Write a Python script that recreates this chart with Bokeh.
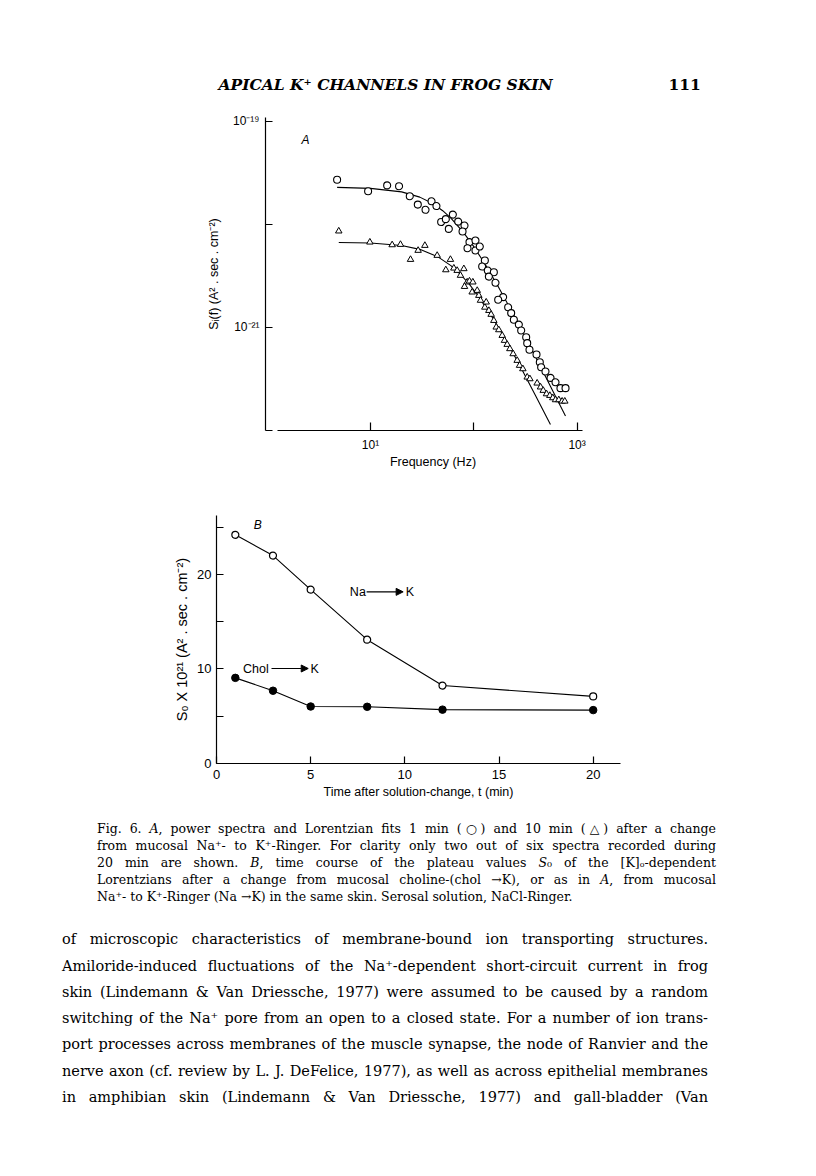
import html
from bokeh.plotting import figure
from bokeh.layouts import column
from bokeh.models import Range1d, FixedTicker, Arrow, NormalHead, Div
from bokeh.core.properties import value
from bokeh.embed import file_html
from bokeh.resources import INLINE

# ---------------- data: panel A (power spectra) ----------------
freq_1min = [4.75, 9.48, 14.5, 18.9, 24.0, 28.7, 34.1, 39.0, 43.5, 48.3, 53.6, 57.3, 62.7,
             70.6, 81.3, 77.8, 90.8, 103.8, 86.9, 103.8, 114.3, 127.9, 120.5, 136.7, 156.3,
             139.9, 162.2, 192.3, 172.2, 215.1, 230.0, 244.2, 272.9, 287.6, 321.4, 328.9,
             346.0, 404.6, 435.5, 448.7, 494.3, 553.4, 618.2, 690.2, 772.7]
spec_1min = [2.70e-20, 2.09e-20, 2.38e-20, 2.34e-20, 1.87e-20, 1.55e-20, 1.38e-20, 1.67e-20,
             1.50e-20, 1.05e-20, 1.12e-20, 9.0e-21, 1.24e-20, 1.06e-20, 9.7e-21, 8.5e-21,
             6.7e-21, 6.95e-21, 5.85e-21, 5.56e-21, 6.07e-21, 4.44e-21, 3.88e-21, 3.55e-21,
             3.42e-21, 3.10e-21, 2.70e-21, 1.96e-21, 1.85e-21, 1.56e-21, 1.37e-21, 1.18e-21,
             1.06e-21, 9.3e-22, 8.0e-22, 7.0e-22, 6.03e-22, 5.43e-22, 4.57e-22, 4.09e-22,
             3.72e-22, 3.22e-22, 2.92e-22, 2.56e-22, 2.56e-22]

freq_10min = [4.93, 9.86, 16.2, 19.5, 24.4, 28.9, 33.6, 44.2, 53.6, 59.4, 64.1, 69.0, 80.1,
              74.3, 86.3, 81.3, 90.8, 97.9, 96.4, 107.9, 111.9, 116.1, 127.9, 131.8, 139.9,
              147.2, 156.3, 164.8, 174.6, 188.4, 198.2, 210.4, 223.4, 240.4, 263.0, 277.3,
              298.5, 328.9, 349.1, 410.2, 442.6, 469.9, 505.8, 544.5, 582.1, 618.2, 665.3,
              716.1, 760.3]
spec_10min = [8.57e-21, 6.69e-21, 6.30e-21, 6.35e-21, 4.54e-21, 5.56e-21, 6.21e-21, 4.97e-21,
              3.60e-21, 4.54e-21, 3.74e-21, 3.55e-21, 3.69e-21, 3.18e-21, 2.74e-21, 2.48e-21,
              2.80e-21, 2.74e-21, 2.19e-21, 2.27e-21, 2.03e-21, 1.82e-21, 1.56e-21, 1.75e-21,
              1.45e-21, 1.33e-21, 1.16e-21, 1.00e-21, 9.42e-22, 8.30e-22, 7.43e-22, 6.79e-22,
              6.17e-22, 5.51e-22, 4.75e-22, 4.25e-22, 3.94e-22, 3.27e-22, 3.15e-22, 2.86e-22,
              2.62e-22, 2.43e-22, 2.25e-22, 2.17e-22, 2.06e-22, 1.97e-22, 1.97e-22, 1.91e-22,
              1.91e-22]

# Lorentzian fit curves
fit_freq_1min = [4.75, 10, 20, 30, 40, 50, 60, 80, 100, 130, 170, 230, 300, 400, 550, 772]
fit_spec_1min = [2.276e-20, 2.228e-20, 2.061e-20, 1.832e-20, 1.586e-20, 1.352e-20, 1.145e-20,
                 8.24e-21, 6.06e-21, 4.02e-21, 2.54e-21, 1.46e-21, 8.81e-22, 5.04e-22,
                 2.69e-22, 1.375e-22]
fit_freq_10min = [4.93, 10, 20, 30, 45, 60, 72.5, 90, 110, 140, 180, 230, 300, 400, 552]
fit_spec_10min = [6.65e-21, 6.56e-21, 6.21e-21, 5.70e-21, 4.82e-21, 3.96e-21, 3.34e-21,
                  2.63e-21, 2.02e-21, 1.41e-21, 9.32e-22, 6.04e-22, 3.69e-22, 2.12e-22,
                  1.133e-22]

freq_ticks = [10.0, 100.0, 1000.0]
freq_tick_labels = {10.0: "10¹", 100.0: "", 1000.0: "10³"}
spec_ticks = [1e-22, 1e-21, 1e-20, 1e-19]
spec_tick_labels = {1e-22: "", 1e-21: "10⁻²¹", 1e-20: "", 1e-19: "10⁻¹⁹"}

# ---------------- data: panel B (plateau values) ----------------
time_min = [1, 3, 5, 8, 12, 20]
s0_na_to_k = [24.2, 22.0, 18.4, 13.1, 8.25, 7.1]
s0_chol_to_k = [9.06, 7.7, 6.03, 6.0, 5.7, 5.65]
time_ticks = [0, 5, 10, 15, 20]
s0_ticks = [0, 5, 10, 15, 20, 25]
s0_tick_labels = {5: "", 15: "", 25: ""}

# ---------------- page texts ----------------
header_title = "APICAL K⁺ CHANNELS IN FROG SKIN"
page_number = "111"
caption_lines = [
    "Fig. 6. <i>A</i>, power spectra and Lorentzian fits 1 min (○) and 10 min (△) after a change",
    "from mucosal Na⁺- to K⁺-Ringer. For clarity only two out of six spectra recorded during",
    "20 min are shown. <i>B</i>, time course of the plateau values <i>S</i>₀ of the [K]ₒ-dependent",
    "Lorentzians after a change from mucosal choline-(chol →K), or as in <i>A</i>, from mucosal",
    "Na⁺- to K⁺-Ringer (Na →K) in the same skin. Serosal solution, NaCl-Ringer.",
]
body_lines = [
    "of microscopic characteristics of membrane-bound ion transporting structures.",
    "Amiloride-induced fluctuations of the Na⁺-dependent short-circuit current in frog",
    "skin (Lindemann & Van Driessche, 1977) were assumed to be caused by a random",
    "switching of the Na⁺ pore from an open to a closed state. For a number of ion trans-",
    "port processes across membranes of the muscle synapse, the node of Ranvier and the",
    "nerve axon (cf. review by L. J. DeFelice, 1977), as well as across epithelial membranes",
    "in amphibian skin (Lindemann & Van Driessche, 1977) and gall-bladder (Van",
]

W = 800
SANS = "Liberation Sans"
SERIF = "DejaVu Serif"


def canvas(top, bottom):
    p = figure(width=W, height=bottom - top, x_range=Range1d(0, W),
               y_range=Range1d(bottom, top), output_backend="svg",
               toolbar_location=None, x_axis_location=None, y_axis_location=None,
               min_border=0, frame_align=False)
    p.xgrid.grid_line_color = None
    p.ygrid.grid_line_color = None
    p.outline_line_color = None
    p.background_fill_color = "white"
    p.border_fill_color = "white"
    return p


def style_axis(ax, size="12px", title_size="12px"):
    ax.axis_line_color = "black"
    ax.axis_line_width = 1.2
    ax.major_tick_line_color = "black"
    ax.major_tick_line_width = 1.2
    ax.minor_tick_line_color = None
    ax.major_label_text_font = SANS
    ax.major_label_text_font_size = size
    ax.major_label_text_color = "black"
    ax.axis_label_text_font = SANS
    ax.axis_label_text_font_size = title_size
    ax.axis_label_text_font_style = "normal"
    ax.axis_label_text_color = "black"


# ---------------- header (page y 0..106) ----------------
ph = canvas(0, 106)
ph.text(x=[218], y=[84], text=[header_title], text_font=value(SERIF),
        text_font_style="bold italic", text_font_size="15.5px", text_baseline="middle",
        text_align="left", text_color="black")
ph.text(x=[668], y=[84], text=[page_number], text_font=value(SERIF),
        text_font_style="bold", text_font_size="15.5px", text_baseline="middle",
        text_align="left", text_color="black")

# ---------------- panel A (page y 106..480) ----------------
pa = figure(width=W, height=374, x_axis_type="log", y_axis_type="log",
            x_range=Range1d(10 ** -0.0165, 10 ** 3.2265),
            y_range=Range1d(10 ** -22.003, 10 ** -18.964),
            min_border_left=265, min_border_right=200, min_border_top=11,
            min_border_bottom=50, output_backend="svg", toolbar_location=None,
            frame_align=False)
pa.xgrid.grid_line_color = None
pa.ygrid.grid_line_color = None
pa.outline_line_color = None
xa = pa.xaxis[0]
ya = pa.yaxis[0]
style_axis(xa, "12px", "12.5px")
style_axis(ya, "12px", "12.5px")
xa.ticker = FixedTicker(ticks=freq_ticks, minor_ticks=[])
xa.major_label_overrides = freq_tick_labels
xa.bounds = (1.258, 1127)
xa.major_tick_in = 8
xa.major_tick_out = 0
xa.major_label_standoff = 7
xa.axis_label = "Frequency (Hz)"
xa.axis_label_standoff = 0
ya.ticker = FixedTicker(ticks=spec_ticks, minor_ticks=[])
ya.major_label_overrides = spec_tick_labels
ya.major_tick_in = 7
ya.major_tick_out = 0
ya.major_label_standoff = 6
ya.axis_label = "Sᵢ(f) (A² . sec . cm⁻²)"
ya.axis_label_standoff = 9

pa.line(fit_freq_1min, fit_spec_1min, line_color="black", line_width=1.1)
pa.line(fit_freq_10min, fit_spec_10min, line_color="black", line_width=1.1)
pa.scatter(freq_1min, spec_1min, marker="circle", size=7, fill_color="white",
           line_color="black", line_width=1.1)
pa.scatter(freq_10min, spec_10min, marker="triangle", size=6.5, fill_color="white",
           line_color="black", line_width=1.0)
pa.text(x=[2.35], y=[6.5e-20], text=["A"], text_font=value(SANS), text_font_style="italic",
        text_font_size="12px", text_align="center", text_baseline="middle", text_color="black")

# ---------------- panel B (page y 480..810) ----------------
pb = figure(width=W, height=330, x_range=Range1d(0, 21.45), y_range=Range1d(0, 26.24),
            min_border_left=216, min_border_right=180, min_border_top=35,
            min_border_bottom=47, output_backend="svg", toolbar_location=None,
            frame_align=False)
pb.xgrid.grid_line_color = None
pb.ygrid.grid_line_color = None
pb.outline_line_color = None
xb = pb.xaxis[0]
yb = pb.yaxis[0]
style_axis(xb, "13px", "12.5px")
style_axis(yb, "13px", "14.5px")
xb.ticker = FixedTicker(ticks=time_ticks, minor_ticks=[])
xb.major_tick_in = 7
xb.major_tick_out = 0
xb.major_label_standoff = 6
xb.axis_label = "Time after solution-change, t (min)"
xb.axis_label_standoff = 3
yb.ticker = FixedTicker(ticks=s0_ticks, minor_ticks=[])
yb.major_label_overrides = s0_tick_labels
yb.major_tick_in = 7
yb.major_tick_out = 0
yb.major_label_standoff = 5
yb.axis_label = "S₀ X 10²¹ (A² . sec . cm⁻²)"
yb.axis_label_standoff = 4

pb.line(time_min, s0_na_to_k, line_color="black", line_width=1.1)
pb.scatter(time_min, s0_na_to_k, marker="circle", size=7, fill_color="white",
           line_color="black", line_width=1.2)
pb.line(time_min, s0_chol_to_k, line_color="black", line_width=1.1)
pb.scatter(time_min, s0_chol_to_k, marker="circle", size=7.5, fill_color="black",
           line_color="black")

label_x = [2.19, 7.08, 10.05, 1.41, 4.99]
label_y = [25.2, 18.16, 18.16, 10.05, 10.05]
label_text = ["B", "Na", "K", "Chol", "K"]
pb.text(x=label_x[1:], y=label_y[1:], text=label_text[1:], text_font=value(SANS),
        text_font_size="12.5px", text_align="left", text_baseline="middle", text_color="black")
pb.text(x=label_x[:1], y=label_y[:1], text=label_text[:1], text_font=value(SANS),
        text_font_style="italic", text_font_size="12px", text_align="center",
        text_baseline="middle", text_color="black")
arrow_start = [7.97, 2.92]
arrow_end = [9.91, 4.87]
arrow_y = [18.16, 10.05]
for xs, xe, yy in zip(arrow_start, arrow_end, arrow_y):
    pb.add_layout(Arrow(end=NormalHead(size=7, fill_color="black", line_color="black"),
                        x_start=xs, y_start=yy, x_end=xe, y_end=yy,
                        line_color="black", line_width=1.2))

# ---------------- caption and body text (page y 810..1168), justified ----------------
TOP = 810
cap_y = [828, 845, 862, 879, 896]
body_y = [939, 966, 992, 1018, 1044, 1071, 1097]
parts = ['<div style="position:relative;width:800px;height:358px;color:black;'
         'font-family:\'DejaVu Serif\',serif;">']
for i, (line, yc) in enumerate(zip(caption_lines, cap_y)):
    last = "justify" if i < len(caption_lines) - 1 else "left"
    parts.append(
        f'<div style="position:absolute;left:97px;top:{yc - TOP - 8.5}px;width:619px;'
        f'height:17px;line-height:17px;font-size:12.5px;text-align:justify;'
        f'text-align-last:{last};">{line}</div>')
for line, yc in zip(body_lines, body_y):
    parts.append(
        f'<div style="position:absolute;left:62px;top:{yc - TOP - 13}px;width:646px;'
        f'height:26px;line-height:26px;font-size:14.5px;text-align:justify;'
        f'text-align-last:justify;">{html.escape(line)}</div>')
parts.append('</div>')
pt = Div(text="".join(parts), width=W, height=358, margin=0)

layout = column(ph, pa, pb, pt, spacing=0)
open("out.html", "w").write(file_html(layout, INLINE))
